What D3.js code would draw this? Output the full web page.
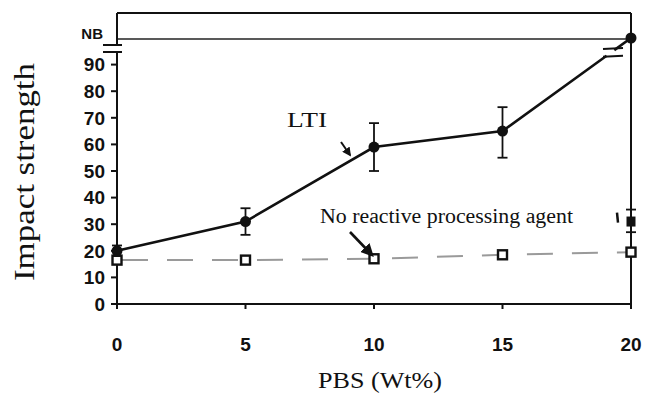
<!DOCTYPE html>
<html>
<head>
<meta charset="utf-8">
<script src="https://d3js.org/d3.v7.min.js"></script>
<style>
  body { margin: 0; background: #fff; }
  .tick-label { font-family: "Liberation Sans", Arial, sans-serif; font-weight: bold; font-size: 19px; fill: #111; }
  .serif { font-family: "Liberation Serif", "Times New Roman", serif; fill: #111; }
</style>
</head>
<body>
<div id="chart"></div>
<script>
  // LTI series (PBS wt%, impact strength), last point is "NB" (no break)
  var ltiX = [0, 5, 10, 15, 20];
  var ltiY = [20, 31, 59, 65, 100];
  var ltiLo = [18, 26, 50, 55, null];
  var ltiHi = [22, 36, 68, 74, null];

  // no reactive processing agent
  var noX = [0, 5, 10, 15, 20];
  var noY = [16.5, 16.5, 17, 18.5, 19.5];

  // separate point at 20 wt%
  var extraX = [20];
  var extraY = [31];
  var extraLo = [27];
  var extraHi = [35.5];

  var xTicks = [0, 5, 10, 15, 20];
  var yTicks = [0, 10, 20, 30, 40, 50, 60, 70, 80, 90];
  var nbValue = 100;

  var width = 645, height = 395;
  var svg = d3.select("#chart").append("svg")
    .attr("width", width)
    .attr("height", height);

  var x = d3.scaleLinear().domain([0, 20]).range([117, 631]);
  var y = d3.scaleLinear().domain([0, 100]).range([304, 38]);
  var topY = 13;

  // frame: top line, NB line, right edge
  svg.append("line").attr("x1", x(0)).attr("x2", x(20)).attr("y1", topY).attr("y2", topY)
    .attr("stroke", "#111").attr("stroke-width", 2);
  svg.append("line").attr("x1", x(0)).attr("x2", x(20)).attr("y1", y(nbValue) + 1).attr("y2", y(nbValue) + 1)
    .attr("stroke", "#222").attr("stroke-width", 1.6);
  svg.append("line").attr("x1", x(20)).attr("x2", x(20)).attr("y1", topY).attr("y2", y(0))
    .attr("stroke", "#111").attr("stroke-width", 2);

  // y axis (broken near the top)
  var yAxis = svg.append("g").attr("transform", "translate(" + x(0) + ",0)");
  yAxis.append("line").attr("y1", topY).attr("y2", 45).attr("stroke", "#111").attr("stroke-width", 2);
  yAxis.append("line").attr("y1", 52).attr("y2", y(0)).attr("stroke", "#111").attr("stroke-width", 2);
  [45, 52].forEach(function(b) {
    yAxis.append("line").attr("x1", -14).attr("x2", 5).attr("y1", b).attr("y2", b)
      .attr("stroke", "#111").attr("stroke-width", 2);
  });

  yAxis.selectAll(".yt").data(yTicks).enter().append("line")
    .attr("x1", -6).attr("x2", 0)
    .attr("y1", function(d) { return y(d); })
    .attr("y2", function(d) { return y(d); })
    .attr("stroke", "#111").attr("stroke-width", 2);

  yAxis.selectAll(".yl").data(yTicks).enter().append("text")
    .attr("class", "tick-label")
    .attr("x", -12)
    .attr("y", function(d) { return y(d); })
    .attr("dy", "0.36em")
    .attr("text-anchor", "end")
    .text(function(d) { return d; });

  yAxis.append("text")
    .attr("class", "tick-label")
    .style("font-size", "15px")
    .attr("x", -14).attr("y", y(nbValue) - 4)
    .attr("dy", "0.36em")
    .attr("text-anchor", "end")
    .text("NB");

  // x axis
  var xAxis = svg.append("g").attr("transform", "translate(0," + y(0) + ")");
  xAxis.append("line").attr("x1", x(0) - 6).attr("x2", x(20)).attr("stroke", "#111").attr("stroke-width", 2);
  xAxis.selectAll(".xt").data(xTicks).enter().append("line")
    .attr("x1", function(d) { return x(d); })
    .attr("x2", function(d) { return x(d); })
    .attr("y1", 0).attr("y2", 5)
    .attr("stroke", "#111").attr("stroke-width", 2);
  xAxis.selectAll(".xl").data(xTicks).enter().append("text")
    .attr("class", "tick-label")
    .style("font-size", "19px")
    .attr("x", function(d) { return x(d); })
    .attr("y", 47)
    .attr("text-anchor", "middle")
    .text(function(d) { return d; });

  // dashed series: no reactive processing agent
  var noData = noX.map(function(d, i) { return [d, noY[i]]; });
  svg.append("path")
    .datum(noData)
    .attr("fill", "none")
    .attr("stroke", "#9a9a9a")
    .attr("stroke-width", 2)
    .attr("stroke-dasharray", "26,19")
    .attr("stroke-dashoffset", -5)
    .attr("d", d3.line().x(function(d) { return x(d[0]); }).y(function(d) { return y(d[1]); }));

  svg.selectAll(".sq").data(noData).enter().append("rect")
    .attr("x", function(d) { return x(d[0]) - 4.5; })
    .attr("y", function(d) { return y(d[1]) - 4.5; })
    .attr("width", 9).attr("height", 9)
    .attr("fill", "#fff").attr("stroke", "#111").attr("stroke-width", 2.4);

  // LTI line, broken just before the NB point
  var ltiData = ltiX.map(function(d, i) { return [d, ltiY[i], ltiLo[i], ltiHi[i]]; });
  var brk1 = 19.05, brk2 = 19.35;
  function interp(xv) {
    var a = ltiData[3], b = ltiData[4];
    return a[1] + (b[1] - a[1]) * (xv - a[0]) / (b[0] - a[0]);
  }
  var line = d3.line().x(function(d) { return x(d[0]); }).y(function(d) { return y(d[1]); });
  svg.append("path")
    .datum(ltiData.slice(0, 4).concat([[brk1, interp(brk1)]]))
    .attr("fill", "none").attr("stroke", "#111").attr("stroke-width", 2.6)
    .attr("d", line);
  svg.append("path")
    .datum([[brk2, interp(brk2)], ltiData[4]])
    .attr("fill", "none").attr("stroke", "#111").attr("stroke-width", 2.6)
    .attr("d", line);
  // break marks drawn as short horizontal bars
  [y(interp(brk1)) + 1, y(interp(brk2)) - 1].forEach(function(yy) {
    svg.append("line")
      .attr("x1", x(19.3) - 10).attr("x2", x(19.3) + 10)
      .attr("y1", yy).attr("y2", yy - 1)
      .attr("stroke", "#111").attr("stroke-width", 2);
  });

  // error bars
  var errData = ltiData.filter(function(d) { return d[2] !== null; })
    .concat(extraX.map(function(d, i) { return [d, extraY[i], extraLo[i], extraHi[i]]; }));
  var eb = svg.selectAll(".eb").data(errData).enter().append("g");
  eb.append("line")
    .attr("x1", function(d) { return x(d[0]); }).attr("x2", function(d) { return x(d[0]); })
    .attr("y1", function(d) { return y(d[2]); }).attr("y2", function(d) { return y(d[3]); })
    .attr("stroke", "#111").attr("stroke-width", 1.8);
  eb.append("line")
    .attr("x1", function(d) { return x(d[0]) - 5; }).attr("x2", function(d) { return x(d[0]) + 5; })
    .attr("y1", function(d) { return y(d[2]); }).attr("y2", function(d) { return y(d[2]); })
    .attr("stroke", "#111").attr("stroke-width", 1.8);
  eb.append("line")
    .attr("x1", function(d) { return x(d[0]) - 5; }).attr("x2", function(d) { return x(d[0]) + 5; })
    .attr("y1", function(d) { return y(d[3]); }).attr("y2", function(d) { return y(d[3]); })
    .attr("stroke", "#111").attr("stroke-width", 1.8);

  svg.selectAll(".dot").data(ltiData).enter().append("circle")
    .attr("cx", function(d) { return x(d[0]); })
    .attr("cy", function(d) { return y(d[1]); })
    .attr("r", 5.5)
    .attr("fill", "#111");

  svg.selectAll(".fsq").data(extraX).enter().append("rect")
    .attr("x", function(d) { return x(d) - 4.5; })
    .attr("y", function(d, i) { return y(extraY[i]) - 5; })
    .attr("width", 9).attr("height", 10)
    .attr("fill", "#111");
  // small mark beside the 20 wt% point
  svg.append("line")
    .attr("x1", x(20) - 14).attr("x2", x(20) - 13)
    .attr("y1", y(extraY[0]) - 9).attr("y2", y(extraY[0]) + 1)
    .attr("stroke", "#111").attr("stroke-width", 2.5);

  // annotations
  svg.append("text").attr("class", "serif")
    .attr("x", 287).attr("y", 127)
    .style("font-size", "22px")
    .attr("textLength", 40).attr("lengthAdjust", "spacingAndGlyphs")
    .text("LTI");

  svg.append("text").attr("class", "serif")
    .attr("x", 320).attr("y", 223)
    .style("font-size", "20px")
    .attr("textLength", 253).attr("lengthAdjust", "spacingAndGlyphs")
    .text("No reactive processing agent");

  var defs = svg.append("defs");
  defs.append("marker")
    .attr("id", "head")
    .attr("viewBox", "0 0 10 10")
    .attr("refX", 8).attr("refY", 5)
    .attr("markerWidth", 4.5).attr("markerHeight", 4.5)
    .attr("orient", "auto")
    .append("path").attr("d", "M0,0 L10,5 L0,10 Z").attr("fill", "#111");
  defs.append("marker")
    .attr("id", "headBig")
    .attr("viewBox", "0 0 10 10")
    .attr("refX", 8).attr("refY", 5)
    .attr("markerWidth", 5).attr("markerHeight", 5)
    .attr("orient", "auto")
    .append("path").attr("d", "M0,0 L10,5 L0,10 Z").attr("fill", "#111");

  svg.append("line")
    .attr("x1", 341).attr("y1", 142).attr("x2", 350).attr("y2", 155)
    .attr("stroke", "#111").attr("stroke-width", 2)
    .attr("marker-end", "url(#head)");
  svg.append("line")
    .attr("x1", 350).attr("y1", 232).attr("x2", 372).attr("y2", 255)
    .attr("stroke", "#111").attr("stroke-width", 2.6)
    .attr("marker-end", "url(#headBig)");

  // axis titles
  svg.append("text").attr("class", "serif")
    .attr("transform", "translate(34,172) rotate(-90)")
    .attr("text-anchor", "middle")
    .style("font-size", "29px")
    .attr("textLength", 218).attr("lengthAdjust", "spacingAndGlyphs")
    .text("Impact strength");

  svg.append("text").attr("class", "serif")
    .attr("x", 380).attr("y", 388)
    .attr("text-anchor", "middle")
    .style("font-size", "23px")
    .attr("textLength", 124).attr("lengthAdjust", "spacingAndGlyphs")
    .text("PBS (Wt%)");
</script>
</body>
</html>
